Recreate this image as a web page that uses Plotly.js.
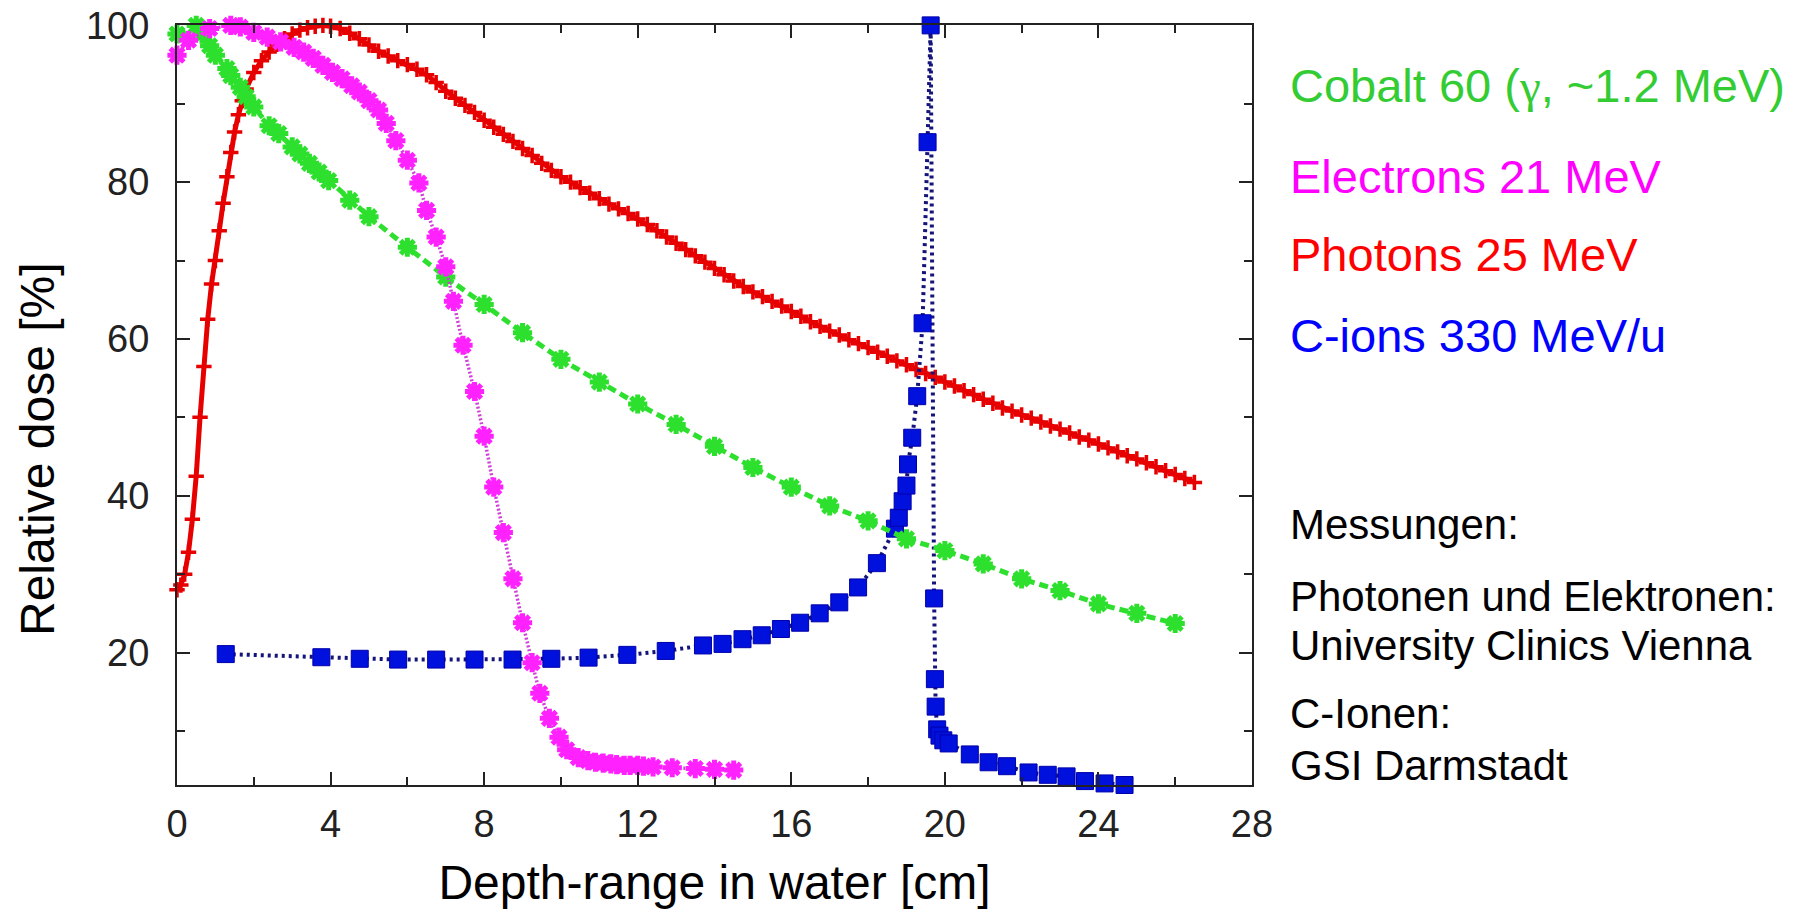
<!DOCTYPE html>
<html>
<head>
<meta charset="utf-8">
<script src="https://cdn.plot.ly/plotly-3.0.1.min.js"></script>
<style>
html,body{margin:0;padding:0;background:#fff;}
#chart{width:1796px;height:909px;}
</style>
</head>
<body>
<div id="chart"></div>
<script>
// Photons 25 MeV
const photonDepth = [0,0.1,0.2,0.3,0.4,0.5,0.6,0.7,0.8,0.9,1.0,1.1,1.2,1.3,1.4,1.5,1.6,1.7,1.8,2.0,2.2,2.4,2.6,2.8,3.0,3.2,3.4,3.6,3.8,
  4.0,4.25,4.5,4.75,5.0,5.25,5.5,5.75,6.0,6.25,6.5,6.75,7.0,7.25,7.5,7.75,8.0,8.25,8.5,8.75,9.0,9.25,9.5,9.75,10.0,
  10.25,10.5,10.75,11.0,11.25,11.5,11.75,12.0,12.25,12.5,12.75,13.0,13.25,13.5,13.75,14.0,14.25,14.5,14.75,15.0,
  15.25,15.5,15.75,16.0,16.25,16.5,16.75,17.0,17.25,17.5,17.75,18.0,18.25,18.5,18.75,19.0,19.25,19.5,19.75,20.0,
  20.25,20.5,20.75,21.0,21.25,21.5,21.75,22.0,22.25,22.5,22.75,23.0,23.25,23.5,23.75,24.0,24.25,24.5,24.75,25.0,
  25.25,25.5,25.75,26.0,26.25,26.5];
const photonDose = [28,28.6,30,32.8,37,42.5,50,56.5,62.5,67,70,73.8,77.3,80.7,83.8,86.4,88.6,90.4,91.9,94,95.5,96.6,97.6,98.3,98.9,99.4,99.7,99.9,100,
  99.9,99.6,99.0,98.3,97.5,96.7,96.1,95.5,95.0,94.4,93.7,92.7,91.6,90.7,89.8,88.9,87.9,87.0,86.1,85.2,84.3,83.4,82.4,81.5,80.7,
  80.0,79.3,78.6,77.9,77.2,76.6,76.0,75.3,74.6,73.8,73.0,72.2,71.4,70.6,69.8,69.0,68.2,67.4,66.7,66.0,
  65.4,64.8,64.2,63.5,62.9,62.2,61.6,61.0,60.5,59.9,59.4,58.9,58.3,57.8,57.2,56.7,56.1,55.6,55.1,54.5,
  54.0,53.4,52.9,52.3,51.8,51.2,50.8,50.3,49.9,49.4,48.9,48.5,48.0,47.5,47.1,46.6,46.1,45.6,45.1,44.7,
  44.2,43.7,43.2,42.7,42.2,41.7];

// Cobalt 60
const cobaltDepth = [0,0.5,0.65,0.85,1.0,1.3,1.4,1.65,1.8,2.0,2.4,2.65,3.0,3.2,3.45,3.7,3.95,4.5,5.0,6.0,7.0,8.0,9.0,10.0,11.0,12.0,13.0,14.0,15.0,16.0,17.0,18.0,19.0,20.0,21.0,22.0,23.0,24.0,25.0,26.0];
const cobaltDose = [98.9,100,98.9,97.4,96.2,94.5,93.6,92.1,90.9,89.6,87.2,86.2,84.5,83.6,82.4,81.3,80.2,77.7,75.6,71.7,67.9,64.4,60.8,57.4,54.5,51.7,49.1,46.3,43.6,41.1,38.7,36.8,34.5,33.0,31.3,29.4,27.9,26.2,25.0,23.7];

// Electrons 21 MeV
const electronDepth = [0,0.3,0.85,1.4,1.65,2.0,2.35,2.7,3.05,3.3,3.55,3.8,4.05,4.3,4.55,4.75,5.0,5.25,5.45,5.7,6.0,6.3,6.5,6.75,7.0,7.2,7.45,7.75,8.0,8.25,8.5,8.75,9.0,9.25,9.45,9.7,9.95,10.15,10.45,10.7,10.9,11.1,11.3,11.45,11.65,11.8,12.0,12.15,12.4,12.9,13.5,14.0,14.5];
const electronDose = [96.2,98.1,99.6,100,99.8,99.1,98.5,97.9,97.2,96.6,95.8,94.9,94.0,93.2,92.3,91.5,90.4,89.2,87.5,85.3,82.8,79.9,76.4,73.0,69.2,64.8,59.2,53.3,47.6,41.1,35.3,29.4,23.8,18.7,14.8,11.6,9.2,7.6,6.6,6.2,6.0,5.9,5.8,5.7,5.6,5.6,5.6,5.5,5.4,5.3,5.2,5.1,5.0];

// C-ions 330 MeV/u
const carbonDepth = [1.27,3.76,4.76,5.76,6.75,7.75,8.74,9.75,10.72,11.73,12.73,13.7,14.21,14.73,15.23,15.73,16.23,16.74,17.25,17.74,18.23,18.7,18.8,18.9,19.0,19.04,19.15,19.28,19.42,19.55,19.63,19.72,19.74,19.76,19.8,19.86,19.96,20.1,20.65,21.14,21.62,22.18,22.68,23.17,23.65,24.16,24.68];
const carbonDose = [19.8,19.4,19.2,19.1,19.1,19.1,19.1,19.2,19.35,19.7,20.2,20.9,21.1,21.7,22.2,23.0,23.8,25.0,26.4,28.3,31.4,35.8,37.2,39.3,41.3,44.0,47.4,52.7,62.0,85.1,100,26.9,16.6,13.1,10.2,9.4,8.8,8.4,7.0,6.0,5.5,4.7,4.4,4.2,3.6,3.3,3.1];

const seriesNames = ["Cobalt 60 (<span style=\"font-family:'Liberation Serif', serif\">γ</span>, ~1.2 MeV)", "Electrons 21 MeV", "Photons 25 MeV", "C-ions 330 MeV/u"];
const seriesColors = ["#33cc33", "#ff00ff", "#ff0000", "#0000ff"];
const notes = ["Messungen:", "Photonen und Elektronen:", "University Clinics Vienna", "C-Ionen:", "GSI Darmstadt"];
const xTitle = "Depth-range in water [cm]";
const yTitle = "Relative dose [%]";

const traces = [
  {x: photonDepth, y: photonDose, name: "Photons 25 MeV", type: "scatter", mode: "lines+markers", cliponaxis: false,
   line: {color: "#e60000", width: 5},
   marker: {symbol: "cross-thin-open", size: 11, color: "#e60000", line: {color: "#e60000", width: 3.5}}},
  {x: carbonDepth, y: carbonDose, name: "C-ions 330 MeV/u", type: "scatter", mode: "lines+markers", cliponaxis: false,
   line: {color: "#14147a", width: 4, dash: "3px,4px"},
   marker: {symbol: "square", size: 17, color: "#0010dd", line: {color: "#0000aa", width: 1}}},
  {x: cobaltDepth, y: cobaltDose, name: "Cobalt 60", type: "scatter", mode: "lines+markers", cliponaxis: false,
   line: {color: "#2ee02e", width: 5, dash: "9px,5px"},
   marker: {symbol: "asterisk-open", size: 16, color: "#2ee02e", line: {color: "#2ee02e", width: 5}}},
  {x: electronDepth, y: electronDose, name: "Electrons 21 MeV", type: "scatter", mode: "lines+markers", cliponaxis: false,
   line: {color: "#d040d8", width: 3.5, dash: "2px,2px"},
   marker: {symbol: "asterisk-open", size: 16, color: "#ff22ff", line: {color: "#ff22ff", width: 5}}}
];

const W = 1796, H = 909;
const L = 177, R = 1252, T = 25, B = 785;
const px = v => (v - L) / (R - L);
const py = v => (B - v) / (B - T);

const annotations = [];
const legendY = [85, 176, 254, 335];
seriesNames.forEach((n, i) => {
  annotations.push({text: n, xref: "paper", yref: "paper", x: px(1288), y: py(legendY[i]),
    xanchor: "left", yanchor: "middle", showarrow: false,
    font: {family: "Liberation Sans, Arial, sans-serif", size: 47, color: seriesColors[i]}});
});
const noteY = [524, 596, 645, 713, 765];
notes.forEach((n, i) => {
  annotations.push({text: n, xref: "paper", yref: "paper", x: px(1288), y: py(noteY[i]),
    xanchor: "left", yanchor: "middle", showarrow: false,
    font: {family: "Liberation Sans, Arial, sans-serif", size: 42, color: "#000"}});
});
annotations.push({text: yTitle, xref: "paper", yref: "paper", x: px(38), y: py(449),
  xanchor: "center", yanchor: "middle", textangle: -90, showarrow: false,
  font: {family: "Liberation Sans, Arial, sans-serif", size: 48, color: "#000"}});

const axisCommon = {
  showgrid: false, zeroline: false, showline: true, linecolor: "#222", linewidth: 2,
  mirror: "ticks", ticks: "inside", ticklen: 13, tickwidth: 2, tickcolor: "#222",
  tickfont: {family: "Liberation Sans, Arial, sans-serif", size: 38, color: "#222"},
  automargin: false
};

const layout = {
  width: W, height: H,
  margin: {l: L, r: W - R, t: T, b: H - B, pad: 0},
  paper_bgcolor: "#fff", plot_bgcolor: "#fff",
  showlegend: false,
  xaxis: Object.assign({}, axisCommon, {
    range: [0, 28], tick0: 0, dtick: 4, ticklabelstandoff: 4,
    minor: {dtick: 2, ticks: "inside", ticklen: 8, tickwidth: 2, tickcolor: "#222", showgrid: false},
    title: {text: xTitle, font: {family: "Liberation Sans, Arial, sans-serif", size: 48, color: "#000"}, standoff: 22}
  }),
  yaxis: Object.assign({}, axisCommon, {
    range: [3.1, 100.05], tick0: 0, dtick: 20, ticklabelstandoff: 18,
    minor: {dtick: 10, ticks: "inside", ticklen: 8, tickwidth: 2, tickcolor: "#222", showgrid: false}
  }),
  annotations: annotations
};

Plotly.newPlot("chart", traces, layout, {displayModeBar: false, staticPlot: true});
</script>
</body>
</html>
